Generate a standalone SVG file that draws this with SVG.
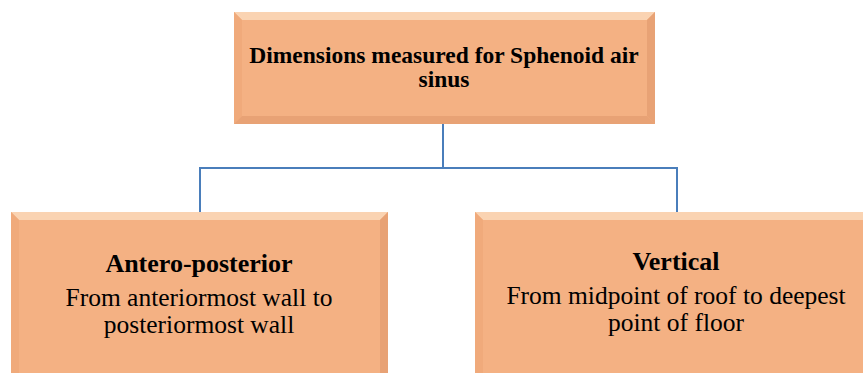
<svg xmlns="http://www.w3.org/2000/svg" width="863" height="373" viewBox="0 0 863 373">
  <style>
    .face { fill: #F4B183; }
    .hi { fill: #FAD3B2; }
    .lo { fill: #E8A275; }
    .side { fill: #F0AA7B; }
    .link { fill: none; stroke: #4A7EBB; stroke-width: 2; }
    .title { font-family: "Liberation Serif", "Times New Roman", serif; font-weight: bold; font-size: 23.5px; fill: #000; text-anchor: middle; }
    .head { font-family: "Liberation Serif", "Times New Roman", serif; font-weight: bold; font-size: 26px; fill: #000; text-anchor: middle; }
    .body { font-family: "Liberation Serif", "Times New Roman", serif; font-size: 25.5px; fill: #000; text-anchor: middle; }
  </style>

  <rect width="863" height="373" fill="#fff"/>

  <!-- connectors -->
  <g id="connectors">
    <path class="link" d="M443,124 V168 H200 V212"/>
    <path class="link" d="M443,168 H677 V212"/>
  </g>

  <!-- root node: beveled box -->
  <g id="node-root">
    <rect class="face" x="234" y="12" width="421" height="112"/>
    <polygon class="hi" points="234,12 655,12 647,20 242,20"/>
    <polygon class="side" points="234,12 242,20 242,116 234,124"/>
    <polygon class="lo" points="655,12 655,124 647,116 647,20"/>
    <polygon class="lo" points="234,124 655,124 647,116 242,116"/>
    <rect class="face" x="242" y="20" width="405" height="96"/>
    <text class="title" x="444" y="63">Dimensions measured for Sphenoid air</text>
    <text class="title" x="444" y="87">sinus</text>
  </g>

  <!-- left node -->
  <g id="node-ap">
    <rect class="face" x="11" y="212" width="377" height="161"/>
    <polygon class="hi" points="11,212 388,212 380,220 19,220"/>
    <polygon class="side" points="11,212 19,220 19,373 11,373"/>
    <polygon class="lo" points="388,212 388,373 380,373 380,220"/>
    <rect class="face" x="19" y="220" width="361" height="153"/>
    <text class="head" x="199" y="272">Antero-posterior</text>
    <text class="body" x="199" y="306">From anteriormost wall to</text>
    <text class="body" x="199" y="333">posteriormost wall</text>
  </g>

  <!-- right node -->
  <g id="node-vertical">
    <rect class="face" x="475" y="212" width="388" height="161"/>
    <polygon class="hi" points="475,212 863,212 863,220 483,220"/>
    <polygon class="side" points="475,212 483,220 483,373 475,373"/>
    <rect class="face" x="483" y="220" width="380" height="153"/>
    <text class="head" x="676" y="270">Vertical</text>
    <text class="body" x="676" y="304">From midpoint of roof to deepest</text>
    <text class="body" x="676" y="331">point of floor</text>
  </g>
</svg>
